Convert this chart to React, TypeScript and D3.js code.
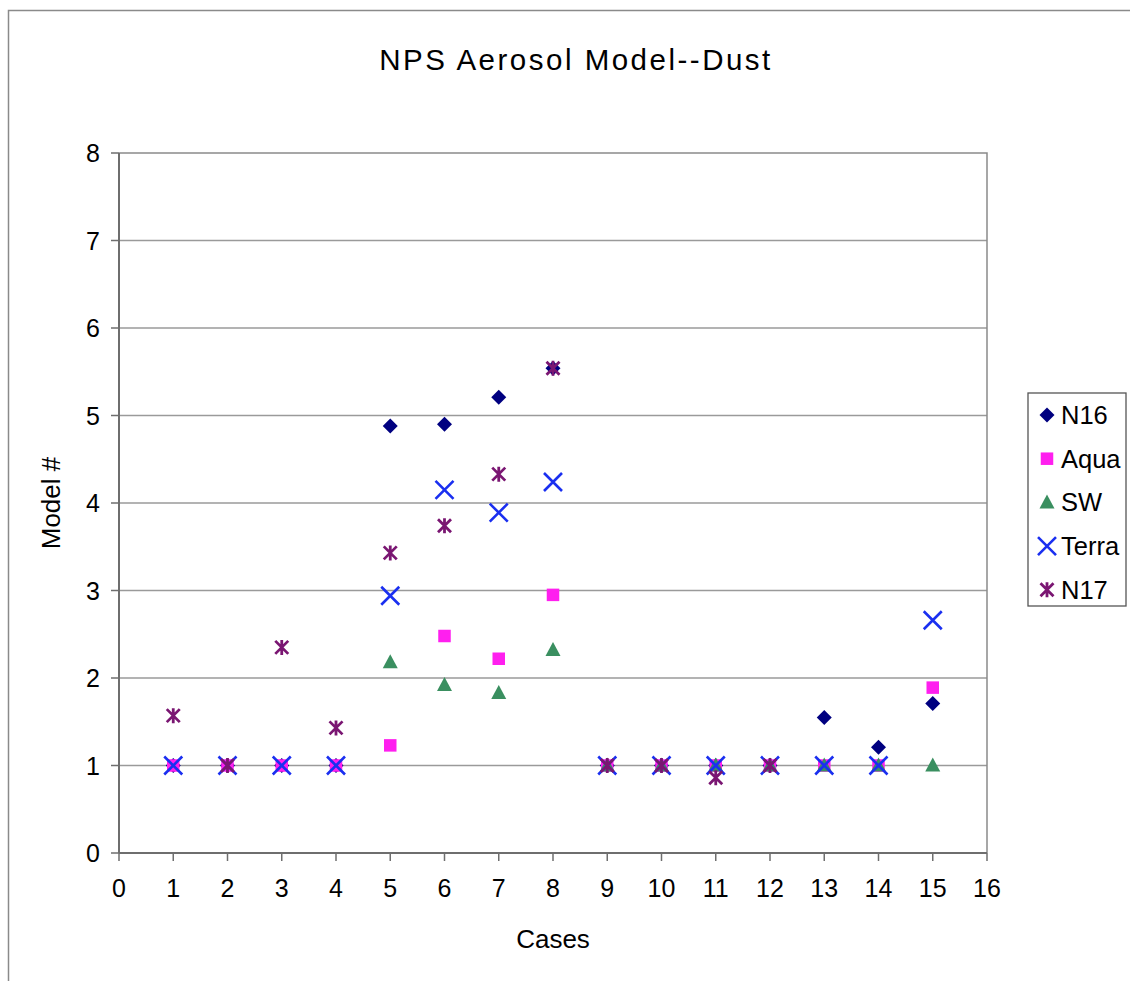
import React from "react";
import * as d3 from "d3";

const cases = [1, 2, 3, 4, 5, 6, 7, 8, 9, 10, 11, 12, 13, 14, 15];
const n16 = [1, 1, 1, 1, 4.88, 4.9, 5.21, 5.54, 1, 1, 1, 1, 1.55, 1.21, 1.71];
const aqua = [1, 1, 1, 1, 1.23, 2.48, 2.22, 2.95, 1, 1, 1, 1, 1, 1, 1.89];
const sw = [null, null, null, null, 2.18, 1.92, 1.83, 2.32, 1, 1, 1, 1, 1, 1, 1];
const terra = [1, 1, 1, 1, 2.94, 4.15, 3.89, 4.24, 1, 1, 1, 1, 1, 1, 2.66];
const n17 = [1.57, 1, 2.35, 1.43, 3.43, 3.74, 4.33, 5.54, 1, 1, 0.86, 1, null, null, null];

const seriesNames = ["N16", "Aqua", "SW", "Terra", "N17"];
const seriesColors = ["#000080", "#FF1FEF", "#3A8F60", "#1A2FF0", "#7A1672"];
const seriesValues = [n16, aqua, sw, terra, n17];
const xTicks = d3.range(0, 17);
const yTicks = d3.range(0, 9);

const W = 1130;
const H = 981;
const plot = { left: 119, right: 987, top: 153, bottom: 853 };
const FONT = "Liberation Sans, Arial, Helvetica, sans-serif";

function Marker({ kind, x, y, color }: { kind: number; x: number; y: number; color: string }) {
  if (kind === 0) {
    const r = 7.5;
    return <path d={`M${x},${y - r}L${x + r},${y}L${x},${y + r}L${x - r},${y}Z`} fill={color} />;
  }
  if (kind === 1) {
    const s = 12.5;
    return <rect x={x - s / 2} y={y - s / 2} width={s} height={s} fill={color} />;
  }
  if (kind === 2) {
    const w = 15, h = 14;
    return <path d={`M${x},${y - h / 2 - 1}L${x + w / 2},${y + h / 2 - 1}L${x - w / 2},${y + h / 2 - 1}Z`} fill={color} />;
  }
  if (kind === 3) {
    const r = 9;
    return (
      <path d={`M${x - r},${y - r}L${x + r},${y + r}M${x - r},${y + r}L${x + r},${y - r}`} stroke={color} strokeWidth={2.6} fill="none" />
    );
  }
  const r = 6.5;
  return (
    <path
      d={`M${x - r},${y - r}L${x + r},${y + r}M${x - r},${y + r}L${x + r},${y - r}M${x},${y - r - 1}L${x},${y + r + 1}`}
      stroke={color}
      strokeWidth={2.8}
      fill="none"
    />
  );
}

export default function App() {
  const x = d3.scaleLinear().domain([0, 16]).range([plot.left, plot.right]);
  const y = d3.scaleLinear().domain([0, 8]).range([plot.bottom, plot.top]);

  const legendX = 1028;
  const legendTop = 393;
  const legendStep = 43.7;

  return (
    <div style={{ position: "absolute", left: 0, top: 0 }}>
      <svg width={W} height={H} style={{ display: "block", background: "#fff" }} fontFamily={FONT}>
        <rect x={0} y={0} width={W} height={H} fill="#fff" />
        {/* outer chart border */}
        <path d={`M8.5,${H}L8.5,10.5L${W},10.5`} stroke="#8a8a8a" strokeWidth={1.5} fill="none" />

        {/* title */}
        <text x={576} y={70} textAnchor="middle" fontSize={29.5} letterSpacing={2.5} fill="#000">
          NPS Aerosol Model--Dust
        </text>

        {/* gridlines */}
        {yTicks.slice(1, -1).map((t) => (
          <line key={"g" + t} x1={plot.left} x2={plot.right} y1={y(t)} y2={y(t)} stroke="#9a9a9a" strokeWidth={1.5} />
        ))}
        {/* plot border top/right */}
        <path d={`M${plot.left},${plot.top}L${plot.right},${plot.top}L${plot.right},${plot.bottom}`} stroke="#8a8a8a" strokeWidth={1.5} fill="none" />
        {/* axes */}
        <line x1={plot.left} x2={plot.left} y1={plot.top} y2={plot.bottom} stroke="#6e6e6e" strokeWidth={2} />
        <line x1={plot.left} x2={plot.right} y1={plot.bottom} y2={plot.bottom} stroke="#6e6e6e" strokeWidth={2} />

        {/* y ticks */}
        {yTicks.map((t) => (
          <g key={"y" + t}>
            <line x1={plot.left - 8} x2={plot.left} y1={y(t)} y2={y(t)} stroke="#6e6e6e" strokeWidth={1.5} />
            <text x={100} y={y(t) + 9} textAnchor="end" fontSize={25} fill="#000">
              {t}
            </text>
          </g>
        ))}
        {/* x ticks */}
        {xTicks.map((t) => (
          <g key={"x" + t}>
            <line x1={x(t)} x2={x(t)} y1={plot.bottom} y2={plot.bottom + 8} stroke="#6e6e6e" strokeWidth={1.5} />
            <text x={x(t)} y={897} textAnchor="middle" fontSize={25} fill="#000">
              {t}
            </text>
          </g>
        ))}

        {/* axis titles */}
        <text x={553} y={948} textAnchor="middle" fontSize={26} fill="#000">
          Cases
        </text>
        <text transform={`translate(60,${(plot.top + plot.bottom) / 2}) rotate(-90)`} textAnchor="middle" fontSize={26} fill="#000">
          Model #
        </text>

        {/* data */}
        {seriesValues.map((vals, si) => (
          <g key={"s" + si}>
            {vals.map((v, i) =>
              v == null ? null : <Marker key={i} kind={si} x={x(cases[i])} y={y(v)} color={seriesColors[si]} />
            )}
          </g>
        ))}

        {/* legend */}
        <rect x={legendX} y={legendTop} width={W - legendX - 4} height={213} fill="#fff" stroke="#555" strokeWidth={1.3} />
        {seriesNames.map((name, i) => {
          const cy = legendTop + 22 + i * legendStep;
          return (
            <g key={"l" + name}>
              <Marker kind={i} x={1047} y={cy} color={seriesColors[i]} />
              <text x={1061} y={cy + 9} fontSize={25.5} fill="#000">
                {name}
              </text>
            </g>
          );
        })}
      </svg>
    </div>
  );
}
